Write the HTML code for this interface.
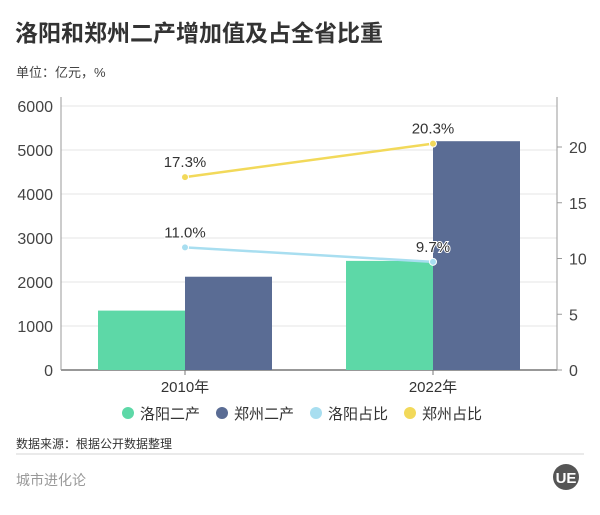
<!DOCTYPE html>
<html><head><meta charset="utf-8"><style>
body{margin:0;width:600px;height:510px;background:#fff;font-family:"Liberation Sans","Noto Sans CJK SC",sans-serif;overflow:hidden}
</style></head><body>
<svg width="600" height="510" xmlns="http://www.w3.org/2000/svg" font-family="Liberation Sans, Noto Sans CJK SC, sans-serif">
<text x="15" y="41" font-size="23" font-weight="bold" fill="#333">洛阳和郑州二产增加值及占全省比重</text>
<text x="16" y="77" font-size="13" fill="#444">单位：亿元，%</text>
<g id="plot"></g>
<text x="16" y="448" font-size="12" fill="#333">数据来源：根据公开数据整理</text>
<line x1="16" y1="454" x2="584" y2="454" stroke="#e4e4e4" stroke-width="1.5"/>
<text x="16" y="485" font-size="14" fill="#999">城市进化论</text>
<g><circle cx="566" cy="477" r="13" fill="#555"/><text x="566" y="483" font-size="15" font-weight="bold" fill="#fff" text-anchor="middle">UE</text></g>
</svg>
<script>
const categories=["2010年","2022年"];
const luoyangGDP=[1350,2480];
const zhengzhouGDP=[2120,5200];
const luoyangShare=[11.0,9.7];
const zhengzhouShare=[17.3,20.3];
const leftTicks=[0,1000,2000,3000,4000,5000,6000];
const rightTicks=[0,5,10,15,20];
const NS="http://www.w3.org/2000/svg";
const g=document.getElementById('plot');
const X0=61,X1=557,Y0=370;
const yL=v=>Y0-v*(264/6000);
const yR=v=>Y0-v*(223/20);
const band=(X1-X0)/categories.length;
const cx=i=>X0+band*(i+0.5);
function el(t,a,txt){const e=document.createElementNS(NS,t);for(const k in a)e.setAttribute(k,a[k]);if(txt!==undefined)e.textContent=txt;g.appendChild(e);return e;}
leftTicks.forEach(v=>{
 const l=el('line',{x1:X0,x2:X1,y1:yL(v),y2:yL(v),stroke:v?'#e6e6e6':'#777','stroke-width':v?1:1.5});
 
 
 const t=el('text',{x:X0-8,y:yL(v)+6,'font-size':16,fill:'#444','text-anchor':'end'},String(v));
 
 
});
const la=el('line',{x1:X0,x2:X0,y1:97,y2:Y0,stroke:'#999'});


const ra=el('line',{x1:X1,x2:X1,y1:97,y2:Y0,stroke:'#999'});


rightTicks.forEach(v=>{
 el('line',{x1:X1,x2:X1+5,y1:yR(v),y2:yR(v),stroke:'#999'});
 const t=el('text',{x:X1+12,y:yR(v)+6,'font-size':16,fill:'#444'},String(v));
 
 
});
const bw=87;
categories.forEach((c,i)=>{
 const b1=el('rect',{x:cx(i)-bw,y:yL(luoyangGDP[i]),width:bw,height:Y0-yL(luoyangGDP[i]),fill:'#5dd8a7'});
 
 
 const b2=el('rect',{x:cx(i),y:yL(zhengzhouGDP[i]),width:bw,height:Y0-yL(zhengzhouGDP[i]),fill:'#5a6c94'});
 
 
 el('line',{x1:cx(i),x2:cx(i),y1:Y0,y2:Y0+5,stroke:'#777'});
 const t=el('text',{x:cx(i),y:392,'font-size':15,fill:'#333','text-anchor':'middle'},c);
 
 
});
[[zhengzhouShare,'#f2d95a','zhengzhou-share'],[luoyangShare,'#a8def0','luoyang-share']].forEach(([arr,col,nm])=>{
 const pl=el('polyline',{points:arr.map((v,i)=>cx(i)+','+yR(v)).join(' '),fill:'none',stroke:col,'stroke-width':2.5});
 
 
 arr.forEach((v,i)=>{
  const p=el('circle',{cx:cx(i),cy:yR(v),r:3.5,fill:col,stroke:'#fff','stroke-width':1});
  
  
  const t=el('text',{x:cx(i),y:yR(v)-10,'font-size':15,fill:'#333','text-anchor':'middle',stroke:'#fff','stroke-width':2,'paint-order':'stroke'},v.toFixed(1)+'%');
  
  
 });
});
const legend=[['洛阳二产','#5dd8a7',128],['郑州二产','#5a6c94',222],['洛阳占比','#a8def0',316],['郑州占比','#f2d95a',410]];
legend.forEach(([n,c,x])=>{
 const d=el('circle',{cx:x,cy:413,r:6,fill:c});
 
 
 const t=el('text',{x:x+12,y:419,'font-size':15,fill:'#333'},n);
 
 
});
</script>
</body></html>
